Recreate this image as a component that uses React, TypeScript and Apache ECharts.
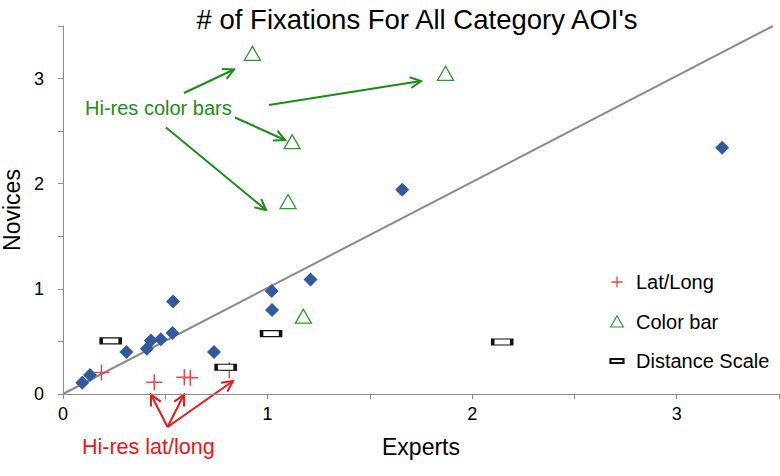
import React, { useEffect, useRef } from 'react';
import * as echarts from 'echarts';

const TITLE = "# of Fixations For All Category AOI's";
const X_NAME = 'Experts';
const Y_NAME = 'Novices';

// [experts, novices]
const otherAOIs: number[][] = [
  [0.094, 0.108], [0.132, 0.18], [0.31, 0.4], [0.41, 0.43], [0.43, 0.51],
  [0.478, 0.52], [0.535, 0.58], [0.538, 0.88], [0.738, 0.4], [1.02, 0.98],
  [1.022, 0.8], [1.21, 1.09], [1.658, 1.943], [3.222, 2.343],
];
const latLong: number[][] = [
  [0.188, 0.205], [0.446, 0.112], [0.593, 0.16], [0.622, 0.155], [0.813, 0.225],
];
const colorBar: number[][] = [
  [0.926, 3.24], [1.87, 3.05], [1.12, 2.4], [1.1, 1.83], [1.175, 0.74],
];
const distanceScale: number[][] = [
  [0.233, 0.505], [0.795, 0.254], [1.017, 0.574], [2.147, 0.495],
];
const equalityLine: number[][] = [[0, 0], [3.47, 3.5]];

const AXIS_MAX = 3.5;
const TICK_STEP = 0.5;
const LABELED_TICKS = [0, 1, 2, 3];

const greenNote = 'Hi-res color bars';
const redNote = 'Hi-res lat/long';
// annotation arrows in pixels: [fromX, fromY, toX, toY]
const greenArrows = [
  [184, 93, 234, 69.5],
  [269, 105, 421, 81],
  [235, 117.5, 285, 140],
  [166, 127.5, 266, 210],
];
const redArrows = [
  [167.5, 427, 151, 394.5],
  [167.5, 427, 184, 394.5],
  [167.5, 427, 233, 381],
];

const FONT = '"Liberation Sans", Arial, sans-serif';
const BLUE = '#31599e';
const RED_MARK = '#e8484b';
const GREEN_MARK = '#2f962f';
const GREEN_NOTE = '#1a8c1a';
const RED_NOTE = '#ee1515';
const AXIS_GREY = '#8c8c8c';

const CROSS = 'path://M5,0L5,10M0,5L10,5';
const LEG_CROSS = 'path://M5.5,0.5L5.5,10.5M0.5,5.5L10.5,5.5';
const LEG_TRI = 'path://M5.5,0.5L11,10L0,10Z';
const LEG_RECT = 'path://M6.5,-3.5L6.5,-3.5M0,0L13,0L13,4L0,4ZM6.5,7.5L6.5,7.5';

function arrow(a: number[], color: string) {
  const [x1, y1, x2, y2] = a;
  const dx = x2 - x1;
  const dy = y2 - y1;
  const len = Math.hypot(dx, dy);
  const ux = dx / len;
  const uy = dy / len;
  const L = 12;
  const ang = (27 * Math.PI) / 180;
  const rot = (s: number) => {
    const c = Math.cos(s * ang);
    const sn = Math.sin(s * ang);
    const rx = ux * c - uy * sn;
    const ry = ux * sn + uy * c;
    return [x2 - L * rx, y2 - L * ry];
  };
  return [
    {
      type: 'line',
      shape: { x1, y1, x2, y2 },
      style: { stroke: color, lineWidth: 2 },
      silent: true,
    },
    {
      type: 'polyline',
      shape: { points: [rot(1), [x2, y2], rot(-1)] },
      style: { stroke: color, lineWidth: 2, fill: 'none' },
      silent: true,
    },
  ];
}

const labelFmt = (v: number) => (LABELED_TICKS.includes(v) ? String(v) : '');

export default function App() {
  const ref = useRef<HTMLDivElement>(null);
  useEffect(() => {
    if (!ref.current) return;
    const chart = echarts.init(ref.current, undefined, { renderer: 'svg' });
    const graphics: any[] = [
      {
        type: 'text',
        x: 417,
        y: 19,
        style: {
          text: TITLE,
          font: `27.5px ${FONT}`,
          fill: '#000',
          align: 'center',
          verticalAlign: 'middle',
        },
      },
      {
        type: 'text',
        x: 85,
        y: 108,
        style: {
          text: greenNote,
          font: `20px ${FONT}`,
          fill: GREEN_NOTE,
          align: 'left',
          verticalAlign: 'middle',
        },
      },
      {
        type: 'text',
        x: 82,
        y: 447,
        style: {
          text: redNote,
          font: `21.5px ${FONT}`,
          fill: RED_NOTE,
          align: 'left',
          verticalAlign: 'middle',
        },
      },
    ];
    greenArrows.forEach((a) => graphics.push(...arrow(a, GREEN_NOTE)));
    redArrows.forEach((a) => graphics.push(...arrow(a, RED_NOTE)));

    const axisCommon = {
      type: 'value',
      min: 0,
      max: AXIS_MAX,
      interval: TICK_STEP,
      splitLine: { show: false },
      axisLine: { show: true, lineStyle: { color: AXIS_GREY, width: 1 } },
      axisTick: { show: true, inside: false, length: 5, lineStyle: { color: AXIS_GREY } },
      nameLocation: 'middle',
      nameTextStyle: { fontFamily: FONT, fontSize: 23, color: '#000' },
    };

    chart.setOption({
      animation: false,
      backgroundColor: '#fff',
      grid: {
        left: 63,
        right: 1,
        top: 26,
        bottom: 82,
        containLabel: false,
        outerBoundsMode: 'none',
      },
      xAxis: {
        ...axisCommon,
        name: X_NAME,
        nameGap: 41,
        axisLabel: { formatter: labelFmt, fontFamily: FONT, fontSize: 18, color: '#000', margin: 11 },
      },
      yAxis: {
        ...axisCommon,
        name: Y_NAME,
        nameGap: 40,
        nameRotate: 90,
        axisLabel: { formatter: labelFmt, fontFamily: FONT, fontSize: 18, color: '#000', margin: 19 },
      },
      legend: {
        orient: 'vertical',
        left: 604,
        top: 267,
        itemWidth: 28,
        itemHeight: 11,
        itemGap: 19.5,
        selectedMode: false,
        textStyle: { fontFamily: FONT, fontSize: 20, color: '#000', lineHeight: 20 },
        data: [
          {
            name: 'Lat/Long',
            icon: LEG_CROSS,
            itemStyle: { color: 'none', borderColor: RED_MARK, borderWidth: 1.3 },
          },
          {
            name: 'Color bar',
            icon: LEG_TRI,
            itemStyle: { color: '#fff', borderColor: GREEN_MARK, borderWidth: 1.2 },
          },
          {
            name: 'Distance Scale',
            icon: LEG_RECT,
            itemStyle: { color: '#fff', borderColor: '#111', borderWidth: 2.2 },
          },
        ],
      },
      series: [
        {
          name: 'Equal',
          type: 'line',
          data: equalityLine,
          symbol: 'none',
          silent: true,
          lineStyle: { color: '#8a8a8a', width: 2 },
          z: 1,
        },
        {
          name: 'Category AOI',
          type: 'scatter',
          data: otherAOIs,
          symbol: 'diamond',
          symbolSize: 14,
          itemStyle: { color: BLUE, opacity: 1 },
          z: 3,
        },
        {
          name: 'Lat/Long',
          type: 'scatter',
          data: latLong,
          symbol: CROSS,
          symbolSize: 16,
          itemStyle: { color: 'none', borderColor: RED_MARK, borderWidth: 1.5, opacity: 1 },
          z: 4,
        },
        {
          name: 'Color bar',
          type: 'scatter',
          data: colorBar,
          symbol: 'triangle',
          symbolSize: [16, 14],
          itemStyle: { color: '#fff', borderColor: GREEN_MARK, borderWidth: 1.3, opacity: 1 },
          z: 4,
        },
        {
          name: 'Distance Scale',
          type: 'scatter',
          data: distanceScale,
          symbol: 'rect',
          symbolSize: [19, 6],
          itemStyle: { color: '#fff', borderColor: '#111', borderWidth: 2, opacity: 1 },
          z: 4,
        },
      ],
      graphic: graphics,
    });
    return () => chart.dispose();
  }, []);
  return (
    <div
      ref={ref}
      style={{ position: 'fixed', left: 0, top: 0, width: 780, height: 476 }}
    />
  );
}
